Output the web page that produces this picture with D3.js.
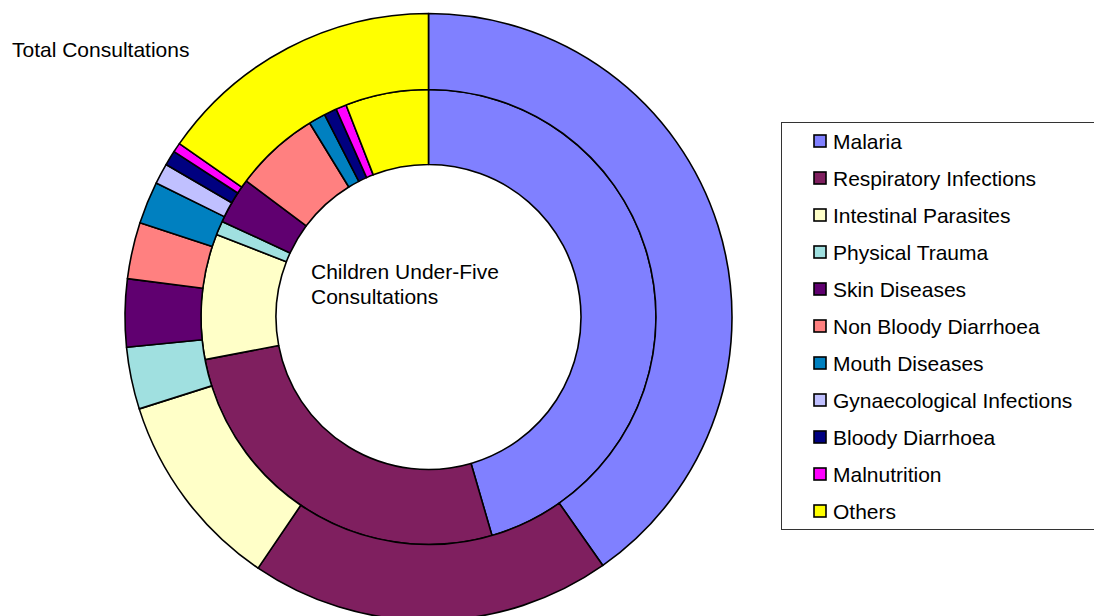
<!DOCTYPE html>
<html>
<head>
<meta charset="utf-8">
<script src="https://cdn.jsdelivr.net/npm/d3@7"></script>
<style>
  body { margin: 0; background: #fff; }
  text { font-family: "Liberation Sans", Arial, sans-serif; fill: #000; }
</style>
</head>
<body>
<div id="chart"></div>
<script>
// categories, in legend order
const categories = ["Malaria", "Respiratory Infections", "Intestinal Parasites", "Physical Trauma",
  "Skin Diseases", "Non Bloody Diarrhoea", "Mouth Diseases", "Gynaecological Infections",
  "Bloody Diarrhoea", "Malnutrition", "Others"];
const colors = ["#8080ff", "#7f1f5f", "#ffffc8", "#a0e0e0", "#600070", "#ff8080",
  "#0080c0", "#c0c0ff", "#000080", "#ff00ff", "#ffff00"];

// share of consultations (%)
const totalValues = [40.2, 19.2, 10.6, 3.3, 3.6, 3.0, 2.25, 1.1, 0.8, 0.5, 15.3];
const underFiveValues = [45.5, 26.5, 8.9, 1.0, 3.3, 6.05, 1.2, 0, 0.9, 0.75, 5.9];

const width = 1094, height = 616;
const cx = 428.5, cy = 317;
const rHole = 152.5, rMid = 227.5, rOuter = 303.5;

const svg = d3.select("#chart").append("svg")
  .attr("width", width)
  .attr("height", height);

const color = d3.scaleOrdinal().domain(categories).range(colors);

const pie = d3.pie().sort(null).value(d => d.value);

function ring(values, r0, r1) {
  const data = categories.map((c, i) => ({ cat: c, value: values[i] }));
  const arc = d3.arc().innerRadius(r0).outerRadius(r1);
  const g = svg.append("g").attr("transform", `translate(${cx},${cy})`);
  g.selectAll("path")
    .data(pie(data).filter(d => d.data.value > 0))
    .enter().append("path")
    .attr("d", arc)
    .attr("fill", d => color(d.data.cat))
    .attr("stroke", "#000")
    .attr("stroke-width", 1.6)
    .attr("stroke-linejoin", "round");
}

ring(underFiveValues, rHole, rMid);
ring(totalValues, rMid, rOuter);

// labels
svg.append("text")
  .attr("x", 12).attr("y", 57)
  .style("font-size", "21px")
  .text("Total Consultations");

const centre = svg.append("text")
  .attr("x", 311).attr("y", 279)
  .style("font-size", "21px");
centre.append("tspan").attr("x", 311).text("Children Under-Five");
centre.append("tspan").attr("x", 311).attr("dy", 25).text("Consultations");

// legend
const legend = svg.append("g");
legend.append("rect")
  .attr("x", 781.5).attr("y", 122.5)
  .attr("width", 330).attr("height", 407)
  .attr("fill", "#fff")
  .attr("stroke", "#333")
  .attr("stroke-width", 1);

const rowY = d3.scalePoint().domain(categories).range([141, 511]);

const items = legend.selectAll("g.item")
  .data(categories)
  .enter().append("g")
  .attr("class", "item")
  .attr("transform", d => `translate(0,${rowY(d)})`);

items.append("rect")
  .attr("x", 814).attr("y", -6)
  .attr("width", 12).attr("height", 12)
  .attr("fill", d => color(d))
  .attr("stroke", "#000")
  .attr("stroke-width", 1.6);

items.append("text")
  .attr("x", 833).attr("y", 7.5)
  .style("font-size", "21px")
  .text(d => d);
</script>
</body>
</html>
